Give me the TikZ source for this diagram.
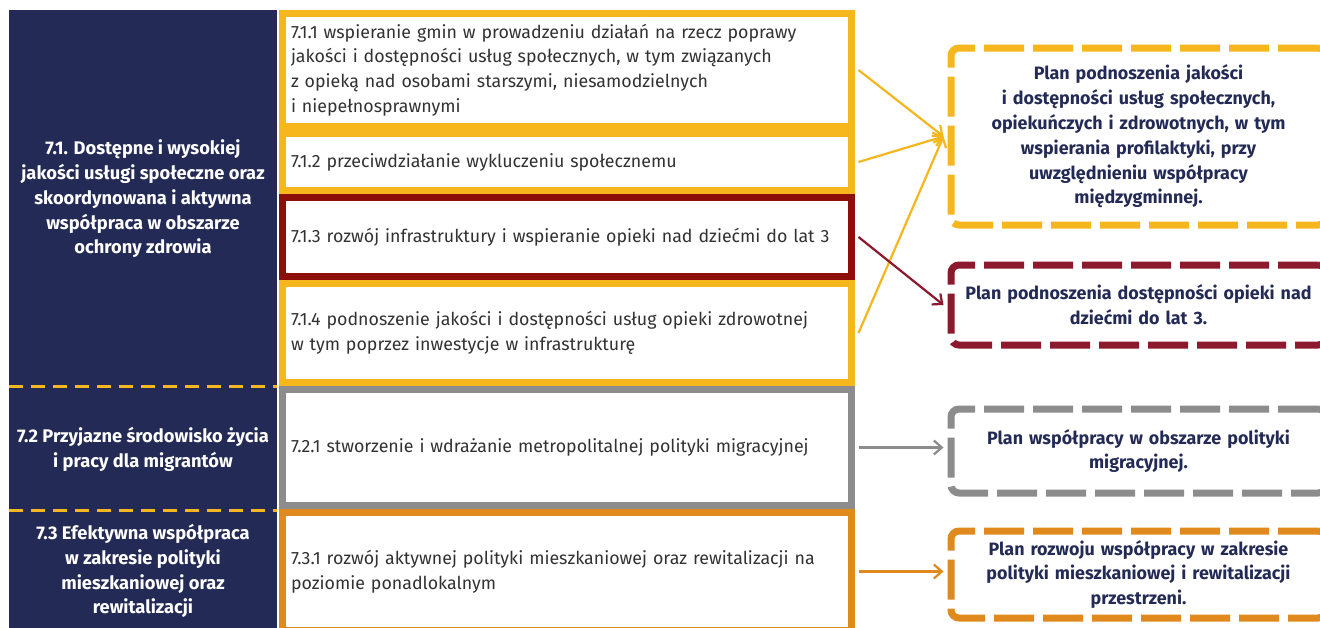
\documentclass[tikz,border=0pt]{standalone}
\usepackage{fontspec}
\setmainfont{Fira Sans}
\usetikzlibrary{arrows.meta}
\definecolor{navy}{RGB}{35,42,85}
\definecolor{cyel}{RGB}{246,182,30}
\definecolor{cdred}{RGB}{140,15,10}
\definecolor{ccrim}{RGB}{140,25,45}
\definecolor{cgray}{RGB}{140,140,140}
\definecolor{corange}{RGB}{224,138,30}
\definecolor{ctext}{RGB}{50,50,50}
\tikzset{
  midbox/.style={draw=#1, line width=7pt, fill=white, minimum width=569pt, text width=552pt,
    inner xsep=8.5pt, inner ysep=0pt, align=left, text=ctext,
    font=\fontsize{17.8}{24.8}\selectfont},
  planbox/.style={draw=#1, line width=7pt, fill=white, rounded corners=8pt, dash pattern=on 40pt off 9pt,
    minimum width=375pt, text width=365pt, align=center, text=navy, inner sep=0pt,
    font=\bfseries\fontsize{17.9}{24.8}\selectfont},
  lefttext/.style={text=white, align=center, font=\bfseries\fontsize{18.3}{24.8}\selectfont},
  conn/.style={draw=#1, line width=2.2pt, -{Straight Barb[length=8pt,width=14pt,line width=2.2pt]}},
  sep/.style={draw=cyel, line width=3pt, dash pattern=on 14pt off 8pt}
}
\begin{document}
\begin{tikzpicture}[x=1pt,y=-1pt]
\clip (0,0) rectangle (1320,627);
\fill[white] (0,0) rectangle (1320,627);
% left navy column
\fill[navy] (9,10) rectangle (277,640);
\draw[sep] (9,386) -- (277,386);
\draw[sep] (9,510) -- (277,510);
\node[lefttext] (l1) at (143,199) {7.1. Dostępne i wysokiej\\jakości usługi społeczne oraz\\skoordynowana i aktywna\\współpraca w obszarze\\ochrony zdrowia};
\node[lefttext] (l2) at (143,449) {7.2 Przyjazne środowisko życia\\i pracy dla migrantów};
\node[lefttext] (l3) at (143,571) {7.3 Efektywna współpraca\\w zakresie polityki\\mieszkaniowej oraz\\rewitalizacji};
% middle boxes
\node[midbox=cyel, minimum height=113pt] (m711) at (567,70) {7.1.1 wspieranie gmin w prowadzeniu działań na rzecz poprawy\\jakości i dostępności usług społecznych, w tym związanych\\z opieką nad osobami starszymi, niesamodzielnych\\i niepełnosprawnymi};
\node[midbox=cyel, minimum height=57pt] (m712) at (567,162) {7.1.2 przeciwdziałanie wykluczeniu społecznemu};
\node[midbox=cyel, minimum height=99pt] (m714) at (567,333) {7.1.4 podnoszenie jakości i dostępności usług opieki zdrowotnej\\w tym poprzez inwestycje w infrastrukturę};
\node[midbox=cdred, minimum height=79pt] (m713) at (567,237) {7.1.3 rozwój infrastruktury i wspieranie opieki nad dziećmi do lat 3};
\node[midbox=cgray, minimum height=116pt] (m721) at (567,447.5) {7.2.1 stworzenie i wdrażanie metropolitalnej polityki migracyjnej};
\node[midbox=corange, minimum height=118pt] (m731) at (567,571.5) {7.3.1 rozwój aktywnej polityki mieszkaniowej oraz rewitalizacji na\\poziomie ponadlokalnym};
% plan boxes
\node[planbox=cyel, minimum height=177pt] (p1) at (1138.5,136.5) {Plan podnoszenia jakości\\i dostępności usług społecznych,\\opiekuńczych i zdrowotnych, w tym\\wspierania profilaktyki, przy\\uwzględnieniu współpracy\\międzygminnej.};
\node[planbox=ccrim, minimum height=80pt] (p2) at (1138.5,305) {Plan podnoszenia dostępności opieki nad\\dziećmi do lat 3.};
\node[planbox=cgray, minimum height=84pt] (p3) at (1138.5,451) {Plan współpracy w obszarze polityki\\migracyjnej.};
\node[planbox=corange, minimum height=87pt] (p4) at (1138.5,574.5) {Plan rozwoju współpracy w zakresie\\polityki mieszkaniowej i rewitalizacji\\przestrzeni.};
% connectors
\coordinate (t1) at ([xshift=-4pt]p1.west);
\draw[conn=cyel] ([xshift=3.5pt]m711.east) -- (t1);
\draw[conn=cyel] ([xshift=3.5pt]m712.east) -- (t1);
\draw[conn=cyel] ([xshift=3.5pt]m714.east) -- (t1);
\draw[conn=ccrim] ([xshift=3.5pt]m713.east) -- ([xshift=-4pt]p2.west);
\draw[conn=cgray] ([xshift=3.5pt]m721.east) -- ([xshift=-4pt]p3.west |- m721.east);
\draw[conn=corange] ([xshift=3.5pt]m731.east) -- ([xshift=-4pt]p4.west |- m731.east);
\end{tikzpicture}
\end{document}
